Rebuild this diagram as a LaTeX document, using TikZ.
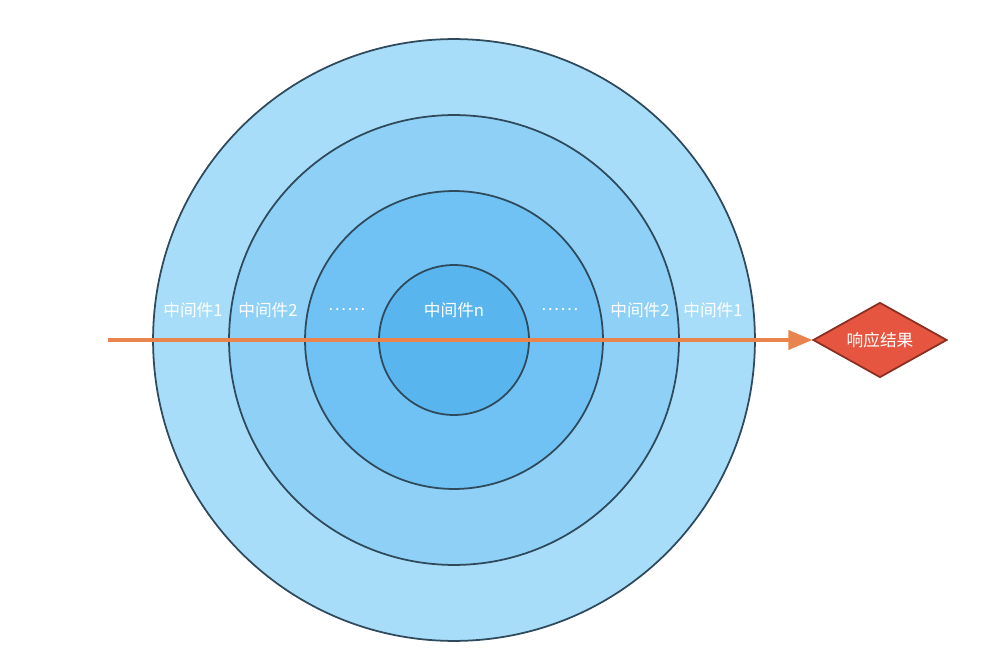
\documentclass[tikz,border=0pt]{standalone}
\usepackage{fontspec}
\setmainfont{Noto Sans CJK SC}
\usetikzlibrary{shapes.geometric, arrows, positioning}
\definecolor{mring1}{HTML}{A8DDF9}
\definecolor{mring2}{HTML}{8ED0F6}
\definecolor{mring3}{HTML}{6FC2F3}
\definecolor{mring4}{HTML}{58B5EE}
\definecolor{mline}{HTML}{2E4A5C}
\definecolor{morange}{HTML}{E9844C}
\definecolor{mred}{HTML}{E5553F}
\definecolor{mdred}{HTML}{8B2E22}
\tikzstyle{ring} = [circle, draw = mline, line width = 1pt, inner sep = 0pt]
\tikzstyle{layer} = [text = white, font = \fontsize{9.5}{11}\selectfont, inner sep = 1pt]
\tikzstyle{result} = [diamond, minimum width = 2.68cm, minimum height = 1.5cm, aspect = 1.8, inner sep = 0pt, text = white, text centered, fill = mred, draw = mdred, line width = 1pt, font = \fontsize{9.5}{11}\selectfont]
\tikzstyle{flow} = [line width = 2.2pt, draw = morange, ->, >=triangle 45]

\begin{document}
\begin{tikzpicture}[x=0.02cm, y=-0.02cm]
  \useasboundingbox (0,0) rectangle (998,669);
  \node (ring1) [ring, fill = mring1, minimum size = 12.04cm] at (454,340) {};
  \node (ring2) [ring, fill = mring2, minimum size = 9cm] at (ring1.center) {};
  \node (ring3) [ring, fill = mring3, minimum size = 5.96cm] at (ring1.center) {};
  \node (ring4) [ring, fill = mring4, minimum size = 3cm] at (ring1.center) {};
  \node (l1) [layer] at (193,310) {中间件1};
  \node (l2) [layer] at (268,310) {中间件2};
  \node (l3) [layer] at (347,310) {.\kern1pt.\kern1pt.\kern1pt.\kern1pt.\kern1pt.};
  \node (ln) [layer] at (454,310) {中间件n};
  \node (r3) [layer] at (560,310) {.\kern1pt.\kern1pt.\kern1pt.\kern1pt.\kern1pt.};
  \node (r2) [layer] at (640,310) {中间件2};
  \node (r1) [layer] at (713,310) {中间件1};
  \node (res) [result] at (880,340) {响应结果};
  \coordinate (start) at (108,340);
  \draw [flow] (start) -- (res.west);
\end{tikzpicture}
\end{document}
